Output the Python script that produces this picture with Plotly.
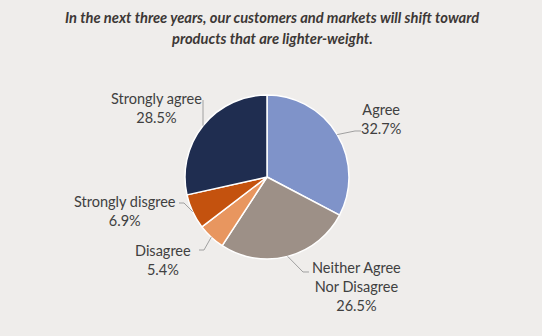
import math
import plotly.graph_objects as go

# Survey responses
categories = ["Agree", "Neither Agree<br>Nor Disagree", "Disagree", "Strongly disgree", "Strongly agree"]
shares = [32.7, 26.5, 5.4, 6.9, 28.5]
colors = ["#7F93C9", "#9D9087", "#E8965F", "#C4520E", "#1F2D50"]

title_lines = [
    "In the next three years, our customers and markets will shift toward",
    "products that are lighter-weight.",
]

W, H = 542, 336
CX, CY, R = 267, 177, 82  # pie centre and radius in pixels

# Label block centres and leader-line elbows (pixels), per slice
label_layout = [
    dict(text_xy=(381, 119), elbow=[(355, 131), (361, 131)]),
    dict(text_xy=(356, 286), elbow=[(303, 272), (309, 272)]),
    dict(text_xy=(163, 260), elbow=[(204, 250), (199, 250)]),
    dict(text_xy=(125, 211), elbow=[(184, 203), (179, 203)]),
    dict(text_xy=(156, 108), elbow=[(None, 100)]),
]

def px(x):
    return x / W

def py(y):
    return 1 - y / H

fig = go.Figure(
    go.Pie(
        labels=categories,
        values=shares,
        sort=False,
        direction="clockwise",
        rotation=0,
        marker=dict(colors=colors, line=dict(color="white", width=1.5)),
        textinfo="none",
        hoverinfo="label+percent",
        showlegend=False,
        domain=dict(x=[px(CX - R), px(CX + R)], y=[py(CY + R), py(CY - R)]),
    )
)

total = sum(shares)
start = 0.0
annotations = []
shapes = []
for cat, val, lay in zip(categories, shares, label_layout):
    span = 360 * val / total
    mid = math.radians(start + span / 2)
    start += span
    ex = CX + R * math.sin(mid)
    ey = CY - R * math.cos(mid)
    pts = [(ex, ey)]
    for (bx, by) in lay["elbow"]:
        pts.append((ex if bx is None else bx, by))
    path = "M " + " L ".join(f"{px(x):.5f},{py(y):.5f}" for x, y in pts)
    shapes.append(dict(type="path", path=path, xref="paper", yref="paper",
                       line=dict(color="#A0A0A0", width=1)))
    tx, ty = lay["text_xy"]
    annotations.append(dict(
        x=px(tx), y=py(ty), xref="paper", yref="paper",
        text=f"{cat}<br>{val:.1f}%", showarrow=False,
        xanchor="center", yanchor="middle", align="center",
        font=dict(family="Lato", size=14.5, color="#404040"),
    ))

for i, line in enumerate(title_lines):
    annotations.append(dict(
        x=px(272), y=py(17 + 21 * i), xref="paper", yref="paper",
        text=f"<b><i>{line}</i></b>", showarrow=False,
        xanchor="center", yanchor="middle",
        font=dict(family="Lato", size=14.7, color="#3D3836"),
    ))

fig.update_layout(
    width=W, height=H,
    margin=dict(l=0, r=0, t=0, b=0),
    paper_bgcolor="#EFEDEB",
    plot_bgcolor="#EFEDEB",
    annotations=annotations,
    shapes=shapes,
)

fig.write_html("out.html")
